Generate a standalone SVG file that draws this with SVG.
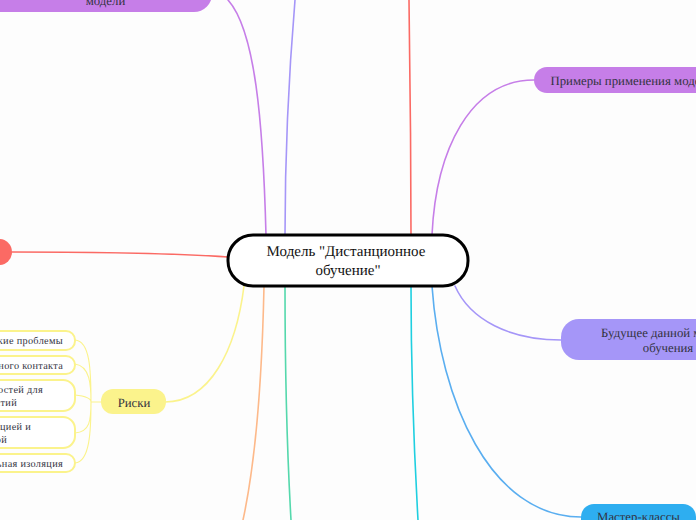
<svg xmlns="http://www.w3.org/2000/svg" width="696" height="520" viewBox="0 0 696 520">
<style>
text{font-family:"Liberation Serif","Times New Roman",serif;text-anchor:middle;fill:#33333f;text-rendering:geometricPrecision}
.c{fill:none;stroke-width:1.6;stroke-linecap:round}
.s{fill:#fff;stroke:#fbf38c;stroke-width:2}
.t{font-size:10.3px;text-anchor:end;letter-spacing:.3px}
.m{font-size:12.8px}
</style>
<rect width="696" height="520" fill="#fdfdfd"/>
<g id="connectors">
<path class="c" stroke="#c67ee8" d="M228 0C255 30 263 120 266 235"/>
<path class="c" stroke="#a596f8" d="M295 0C290 60 285 150 285 235"/>
<path class="c" stroke="#fb6a64" d="M409 0C410 70 411 160 411 235"/>
<path class="c" stroke="#c67ee8" d="M432 235C436 150 470 80 534 80"/>
<path class="c" stroke="#a596f8" d="M455 286C470 320 510 340 561 340"/>
<path class="c" stroke="#5aaef0" d="M432 286C440 400 490 517 581 517"/>
<path class="c" stroke="#fb6a64" d="M12 252C100 252 170 253 228 257"/>
<path class="c" stroke="#fbf38c" d="M244 286C236 350 210 402 165 402"/>
<path class="c" stroke="#fdb98a" d="M264 286C262 380 256 460 243 520"/>
<path class="c" stroke="#54d8ac" d="M285 286C285 380 287 450 291 520"/>
<path class="c" stroke="#1fcfe0" d="M411 286C411 380 414 450 418 520"/>
<path fill="none" stroke="#fbf38c" stroke-width="1.1" d="M101 402H91M91 402C91 370 90 341 75 340M91 402C91 385 90 366 75 364M91 402C91 398 85 396 75 395M91 402C91 420 90 432 75 433M91 402C91 430 90 462 75 463"/>
</g>
<g id="center"><rect x="228" y="235" width="240" height="51" rx="25" fill="#fff" stroke="#000" stroke-width="3"/>
<text x="346" y="256" font-size="15" style="fill:#111">Модель "Дистанционное</text><text x="348" y="275" font-size="15" style="fill:#111">обучение"</text></g>
<g id="node-models"><rect x="-20" y="-30" width="232" height="42" rx="18" fill="#c67ee8"/><text class="m" x="105.500" y="5">модели</text></g>
<g id="node-examples"><rect x="534" y="67" width="200" height="26" rx="13" fill="#c67ee8"/><text class="m" x="632" y="85">Примеры применения модели</text></g>
<g id="node-future"><rect x="561" y="319" width="200" height="41" rx="18" fill="#a596f8"/><text class="m" x="667" y="337">Будущее данной модели</text><text class="m" x="668" y="352">обучения</text></g>
<g id="node-master"><rect x="581" y="504" width="115" height="40" rx="13" fill="#2eaef0"/><text class="m" x="638.500" y="521">Мастер-классы</text></g>
<g id="node-red"><rect x="-30" y="239" width="42" height="26" rx="13" fill="#fb6a64"/></g>
<g id="node-risks"><rect x="101" y="389" width="65" height="25" rx="12" fill="#fbf38c"/><text class="m" x="134" y="407">Риски</text></g>
<g id="risk-1"><rect class="s" x="-60" y="331" width="135" height="19" rx="9"/><text class="t" x="63" y="344">Технические проблемы</text></g>
<g id="risk-2"><rect class="s" x="-60" y="356" width="135" height="18" rx="9"/><text class="t" x="63" y="369">Отсутствие личного контакта</text></g>
<g id="risk-3"><rect class="s" x="-60" y="380" width="135" height="31" rx="12"/><text class="t" x="43" y="393">Ограничение возможностей для</text><text class="t" x="17" y="406">занятий</text></g>
<g id="risk-4"><rect class="s" x="-60" y="417" width="135" height="31" rx="12"/><text class="t" x="31" y="430">Проблемы с мотивацией и</text><text class="t" x="7" y="443">дисциплиной</text></g>
<g id="risk-5"><rect class="s" x="-60" y="454" width="135" height="18" rx="9"/><text class="t" x="63" y="467">Социальная изоляция</text></g>
</svg>
